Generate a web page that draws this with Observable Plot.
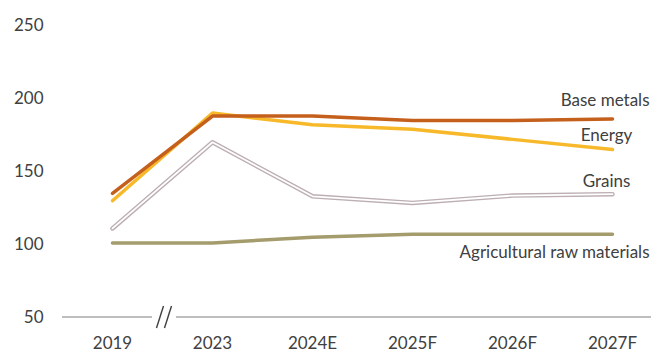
<!DOCTYPE html>
<html>
<head>
<meta charset="utf-8">
<script src="https://cdn.jsdelivr.net/npm/d3@7"></script>
<script src="https://cdn.jsdelivr.net/npm/@observablehq/plot@0.6"></script>
<style>
  html, body { margin: 0; padding: 0; background: #fff; }
  #chart svg { display: block; }
</style>
</head>
<body>
<div id="chart"></div>
<script>
// Commodity price indices (2010 = 100)
const years = ["2019", "2023", "2024E", "2025F", "2026F", "2027F"];
const baseMetals = [135, 188, 188, 185, 185, 186];
const energy = [130, 190, 182, 179, 172, 165];
const grains = [111, 170, 133, 128.5, 133.5, 134.5];
const agriRaw = [101, 101, 105, 107, 107, 107];
const yTicks = [50, 100, 150, 200, 250];

const seriesNames = ["Base metals", "Energy", "Grains", "Agricultural raw materials"];
const seriesValues = [baseMetals, energy, grains, agriRaw];

const rows = seriesNames.flatMap((name, i) =>
  years.map((year, j) => ({series: name, year, value: seriesValues[i][j]}))
);
const bySeries = name => rows.filter(d => d.series === name);
const lastOf = name => bySeries(name).slice(-1);

const textColor = "#404040";
const font = "Lato, 'Open Sans', sans-serif";
const fs = 17;

// Baseline at the bottom of the value axis, with a "//" break between 2019 and 2023
const brokenBaseline = (index, scales, values, dims) => {
  const g = d3.create("svg:g");
  const y0 = scales.y(50);
  const x0 = scales.x(years[0]);
  const x1 = scales.x(years[1]);
  const step = x1 - x0;
  const mid = (x0 + x1) / 2 + 2;
  const gap = 12;
  g.append("line")
    .attr("x1", x0 - step / 2).attr("x2", mid - gap)
    .attr("y1", y0).attr("y2", y0)
    .attr("stroke", "#7f7f7f").attr("stroke-width", 1.2);
  g.append("line")
    .attr("x1", mid + gap).attr("x2", dims.width)
    .attr("y1", y0).attr("y2", y0)
    .attr("stroke", "#7f7f7f").attr("stroke-width", 1.2);
  for (const off of [-4, 4]) {
    g.append("line")
      .attr("x1", mid + off - 3.5).attr("x2", mid + off + 3.5)
      .attr("y1", y0 + 11).attr("y2", y0 - 11)
      .attr("stroke", "#404040").attr("stroke-width", 1.4);
  }
  return g.node();
};

const chart = Plot.plot({
  width: 651,
  height: 353,
  marginTop: 25,
  marginBottom: 36,
  marginLeft: 47,
  marginRight: 0,
  style: {fontFamily: font, fontSize: fs + "px", color: textColor, background: "#fff"},
  x: {type: "point", domain: years, range: [112, 612], padding: 0},
  y: {domain: [50, 250]},
  marks: [
    Plot.axisY(yTicks, {tickSize: 0, tickPadding: 4, label: null, fill: textColor, fontSize: fs}),
    Plot.axisX({tickSize: 0, tickPadding: 19, label: null, fill: textColor, fontSize: fs}),
    brokenBaseline,
    Plot.line(bySeries("Agricultural raw materials"), {x: "year", y: "value", stroke: "#a49c6c", strokeWidth: 3.5}),
    Plot.line(bySeries("Grains"), {x: "year", y: "value", stroke: "#bcaeb3", strokeWidth: 4.5}),
    Plot.line(bySeries("Grains"), {x: "year", y: "value", stroke: "#ffffff", strokeWidth: 1.8}),
    Plot.line(bySeries("Energy"), {x: "year", y: "value", stroke: "#f7b92a", strokeWidth: 3.5}),
    Plot.line(bySeries("Base metals"), {x: "year", y: "value", stroke: "#c55f1c", strokeWidth: 3.5}),
    Plot.text(lastOf("Base metals"), {x: "year", y: "value", text: "series", textAnchor: "end", dx: 37, dy: -18, fill: textColor, fontSize: fs}),
    Plot.text(lastOf("Energy"), {x: "year", y: "value", text: "series", dx: -6, dy: -14, fill: textColor, fontSize: fs}),
    Plot.text(lastOf("Grains"), {x: "year", y: "value", text: "series", dx: -6, dy: -13, fill: textColor, fontSize: fs}),
    Plot.text(lastOf("Agricultural raw materials"), {x: "year", y: "value", text: "series", textAnchor: "end", dx: 37, dy: 18, fill: textColor, fontSize: fs})
  ]
});

document.getElementById("chart").appendChild(chart);
</script>
</body>
</html>
